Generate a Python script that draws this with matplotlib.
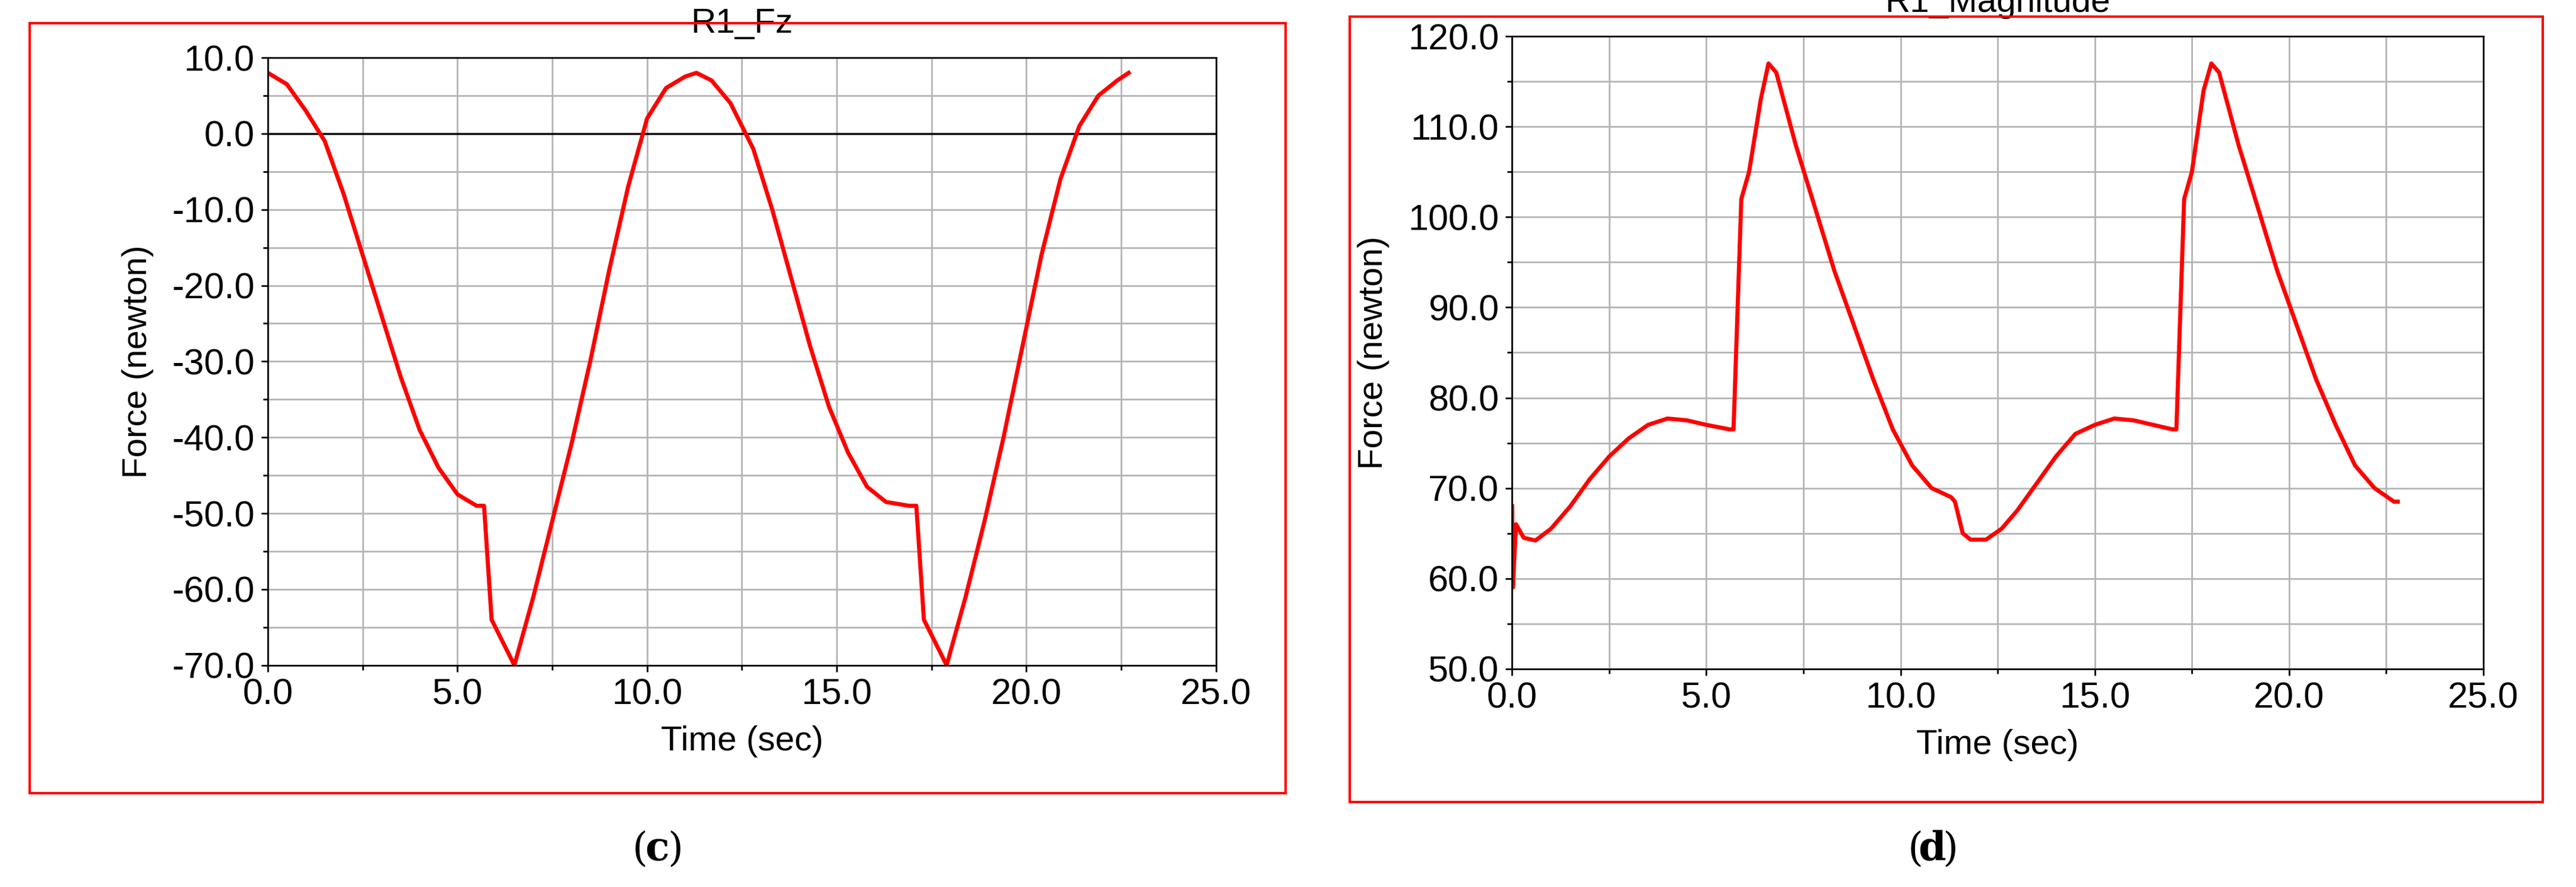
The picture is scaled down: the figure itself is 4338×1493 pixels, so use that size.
import numpy as np
import matplotlib.pyplot as plt
from matplotlib.patches import Rectangle
from matplotlib.ticker import MultipleLocator, FormatStrFormatter

plt.rcParams['font.family'] = ['Liberation Sans', 'DejaVu Sans']

# R1_Fz curve (time in sec, force in newton)
fz_t = [0, 0.5, 1, 1.5, 2, 2.5, 3, 3.5, 4, 4.5, 5, 5.5, 5.7, 5.9, 6.2, 6.5, 7, 7.5, 8, 8.5,
        9, 9.5, 10, 10.5, 11, 11.3, 11.7, 12.2, 12.8, 13.3, 13.8, 14.3, 14.8, 15.3, 15.8,
        16.3, 16.9, 17.1, 17.3, 17.6, 17.9, 18.4, 18.9, 19.4, 19.9, 20.4, 20.9, 21.4, 21.9,
        22.4, 22.7]
fz_v = [8, 6.5, 3, -1, -8, -16, -24, -32, -39, -44, -47.5, -49, -49, -64, -67, -70, -61, -51,
        -41, -30, -18, -7, 2, 6, 7.5, 8, 7, 4, -2, -10, -19, -28, -36, -42, -46.5, -48.5, -49,
        -49, -64, -67, -70, -61, -51, -40, -28, -16, -6, 1, 5, 7, 8]

# R1_Magnitude curve
mag_t = [0, 0.02, 0.1, 0.3, 0.6, 1, 1.5, 2, 2.5, 3, 3.5, 4, 4.5, 5, 5.6, 5.7, 5.9, 6.1, 6.4,
         6.6, 6.8, 7.3, 7.8, 8.3, 8.8, 9.3, 9.8, 10.3, 10.8, 11.3, 11.4, 11.6, 11.8, 12.2,
         12.6, 13, 13.5, 14, 14.5, 15, 15.5, 16, 16.5, 17, 17.1, 17.3, 17.5, 17.8, 18, 18.2,
         18.7, 19.2, 19.7, 20.2, 20.7, 21.2, 21.7, 22.2, 22.7, 22.8]
mag_v = [68, 59, 66, 64.5, 64.2, 65.5, 68, 71, 73.5, 75.5, 77, 77.7, 77.5, 77, 76.5, 76.5, 102,
         105, 113, 117, 116, 108, 101, 94, 88, 82, 76.5, 72.5, 70, 69, 68.5, 65, 64.3, 64.3,
         65.5, 67.5, 70.5, 73.5, 76, 77, 77.7, 77.5, 77, 76.5, 76.5, 102, 105, 114, 117, 116,
         108, 101, 94, 88, 82, 77, 72.5, 70, 68.5, 68.5]

fig = plt.figure(figsize=(43.38, 14.93), dpi=100)

# red frames around the panels
fig.add_artist(Rectangle((0.0115, 0.106), 0.4875, 0.868, transform=fig.transFigure,
                         fill=False, edgecolor='#ff0000', linewidth=3))
fig.add_artist(Rectangle((0.524, 0.096), 0.463, 0.885, transform=fig.transFigure,
                         fill=False, edgecolor='#ff0000', linewidth=3))

ax1 = fig.add_axes([0.104, 0.25, 0.368, 0.685])
ax2 = fig.add_axes([0.587, 0.246, 0.377, 0.713])


def style(ax, title, ylo, yhi):
    ax.set_xlim(0, 25)
    ax.set_ylim(ylo, yhi)
    ax.xaxis.set_major_locator(MultipleLocator(5))
    ax.xaxis.set_minor_locator(MultipleLocator(2.5))
    ax.yaxis.set_major_locator(MultipleLocator(10))
    ax.yaxis.set_minor_locator(MultipleLocator(5))
    ax.xaxis.set_major_formatter(FormatStrFormatter('%.1f'))
    ax.yaxis.set_major_formatter(FormatStrFormatter('%.1f'))
    ax.grid(True, which='both', color='#b4b4b4', linewidth=2)
    ax.set_axisbelow(True)
    ax.tick_params(which='both', direction='out', length=8, width=2, labelsize=44, pad=8)
    ax.tick_params(which='minor', length=6)
    for s in ax.spines.values():
        s.set_linewidth(2)
    ax.set_title(title, fontsize=42, pad=30)
    ax.set_xlabel('Time (sec)', fontsize=42, labelpad=16)
    ax.set_ylabel('Force (newton)', fontsize=42, labelpad=22)


style(ax1, 'R1_Fz', -70, 10)
ax1.axhline(0, color='black', linewidth=2.5)
ax1.plot(fz_t, fz_v, color='#ff0000', linewidth=5)

style(ax2, 'R1_Magnitude', 50, 120)
ax2.plot(mag_t, mag_v, color='#ff0000', linewidth=5)

for x, letter in [(0.255, 'c'), (0.75, 'd')]:
    fig.text(x - 0.0065, 0.03, '(', fontsize=48, family='DejaVu Serif', ha='center')
    fig.text(x, 0.03, letter, fontsize=48, family='DejaVu Serif', weight='bold', ha='center')
    fig.text(x + 0.0072, 0.03, ')', fontsize=48, family='DejaVu Serif', ha='center')

fig.savefig('out.png', dpi=100)
